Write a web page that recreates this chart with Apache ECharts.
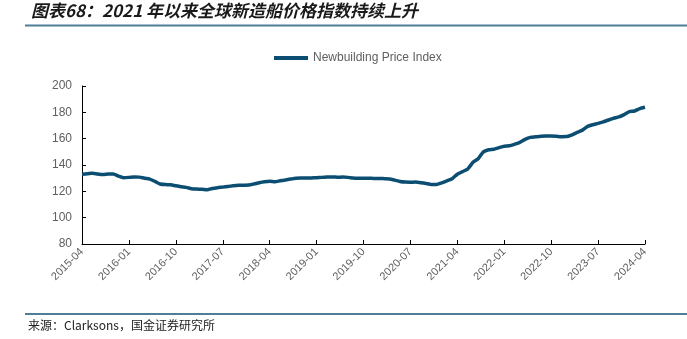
<!DOCTYPE html>
<html>
<head>
<meta charset="utf-8">
<script src="https://cdn.jsdelivr.net/npm/echarts@6/dist/echarts.min.js"></script>
<style>
  html, body { margin: 0; padding: 0; background: #fff; }
  #chart { width: 687px; height: 339px; }
</style>
</head>
<body>
<div id="chart"></div>
<script>
// Monthly Clarksons newbuilding price index, 2015-04 .. 2024-04
const startYear = 2015, startMonth = 4;
const priceIndex = [
  133.0, 133.3, 133.8, 133.2, 132.8, 133.1, 133.2, 131.5, 130.4, 130.6,
  130.9, 130.8, 129.9, 129.3, 127.5, 125.6, 125.1, 125.0, 124.2, 123.5,
  123.0, 122.0, 121.7, 121.6, 121.2, 122.2, 122.8, 123.2, 123.7, 124.2,
  124.6, 124.7, 124.8, 125.6, 126.5, 127.2, 127.6, 127.3, 128.0, 128.6,
  129.3, 130.0, 130.1, 130.1, 130.2, 130.4, 130.6, 130.8, 130.9, 130.7,
  130.8, 130.6, 130.2, 130.0, 129.9, 129.9, 129.8, 129.8, 129.6, 129.4,
  128.5, 127.5, 127.0, 126.9, 127.0, 126.6, 126.0, 125.2, 125.2, 126.5,
  128.0, 129.6, 133.0, 135.0, 137.0, 142.0, 144.8, 150.0, 151.6, 152.0,
  153.2, 154.3, 154.6, 155.8, 157.2, 159.5, 161.0, 161.4, 161.8, 162.0,
  162.0, 161.8, 161.5, 161.6, 162.8, 164.8, 166.5, 169.3, 170.6, 171.6,
  172.8, 174.2, 175.5, 176.5, 178.3, 180.6, 181.0, 182.8, 183.8
];
const yTicks = [80, 100, 120, 140, 160, 180, 200];
const seriesName = 'Newbuilding Price Index';
const titleText = '图表68：2021 年以来全球新造船价格指数持续上升';
const sourceText = '来源：Clarksons，国金证券研究所';

// month labels "YYYY-MM" for each data point
const months = priceIndex.map((_, i) => {
  const t = (startMonth - 1) + i;
  const y = startYear + Math.floor(t / 12);
  const m = (t % 12) + 1;
  return y + '-' + (m < 10 ? '0' + m : m);
});

const lineColor = '#0b4e72';
const ruleColor = '#4f7f98';
const gray = '#606060';

const chart = echarts.init(document.getElementById('chart'), null, { renderer: 'canvas' });
chart.setOption({
  animation: false,
  backgroundColor: '#fff',
  textStyle: { fontFamily: 'Liberation Sans, Arial, sans-serif' },
  legend: {
    data: [seriesName],
    top: 47,
    left: 269,
    itemWidth: 34,
    itemHeight: 4,
    itemGap: 4,
    icon: 'rect',
    textStyle: { color: gray, fontSize: 12, fontFamily: 'Liberation Sans, Arial, sans-serif' }
  },
  grid: { left: 82, right: 42, top: 86, bottom: 95, containLabel: false },
  xAxis: {
    type: 'category',
    data: months,
    boundaryGap: false,
    axisLine: { lineStyle: { color: '#000', width: 1 } },
    axisTick: { show: true, inside: true, length: 4, interval: 8, lineStyle: { color: '#000' } },
    axisLabel: {
      interval: 8,
      rotate: 45,
      color: gray,
      fontSize: 11,
      margin: 6,
      fontFamily: 'Liberation Sans, Arial, sans-serif'
    },
    splitLine: { show: false }
  },
  yAxis: {
    type: 'value',
    min: yTicks[0],
    max: yTicks[yTicks.length - 1],
    interval: 20,
    axisLine: { show: true, lineStyle: { color: '#000', width: 1 } },
    axisTick: { show: true, inside: true, length: 4, lineStyle: { color: '#000' } },
    axisLabel: { color: gray, fontSize: 12, margin: 10, fontFamily: 'Liberation Sans, Arial, sans-serif' },
    splitLine: { show: false }
  },
  series: [{
    name: seriesName,
    type: 'line',
    data: priceIndex,
    showSymbol: false,
    symbol: 'none',
    smooth: 0.2,
    lineStyle: { color: lineColor, width: 3.5 },
    itemStyle: { color: lineColor }
  }],
  graphic: [
    {
      type: 'text',
      left: 31,
      top: 2,
      style: {
        text: titleText,
        font: 'italic bold 17px "Noto Sans CJK SC", sans-serif',
        fill: '#1a1a1a'
      }
    },
    {
      type: 'rect',
      shape: { x: 25, y: 24.5, width: 662, height: 2 },
      style: { fill: ruleColor }
    },
    {
      type: 'rect',
      shape: { x: 25, y: 313, width: 662, height: 2 },
      style: { fill: ruleColor }
    },
    {
      type: 'text',
      left: 28,
      top: 319,
      style: {
        text: sourceText,
        font: '12px "Noto Sans CJK SC", sans-serif',
        fill: '#222'
      }
    }
  ]
});
</script>
</body>
</html>
